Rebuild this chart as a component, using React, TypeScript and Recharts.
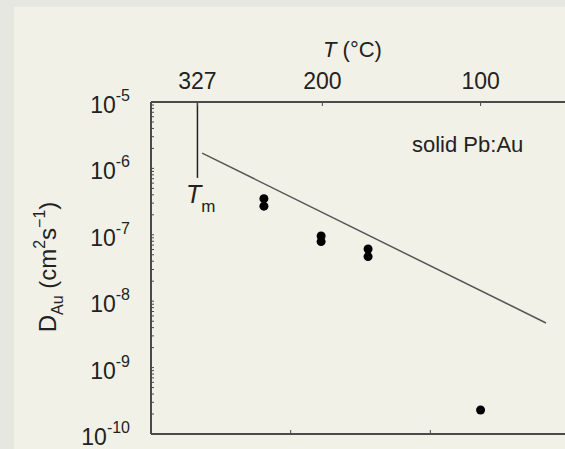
import React from "react";
import { ScatterChart, Scatter, XAxis, YAxis, ReferenceLine } from "recharts";

// Diffusion of Au in solid Pb, plotted against 1000/T (K)
const tempTicksC = [327, 200, 100];
const bottomTicks = [2.0, 2.5];
const decadeTicks = [1e-10, 1e-9, 1e-8, 1e-7, 1e-6, 1e-5];

const pointTempsC = [252, 252, 201, 201, 166, 166, 100];
const pointD = [3.5e-7, 2.7e-7, 9.6e-8, 7.9e-8, 6.1e-8, 4.7e-8, 2.3e-10];

const fitTempsC = [321, 70];
const fitD = [1.7e-6, 4.7e-9];

const meltTempC = 327;
const meltLineD = [1e-5, 7.2e-7];

const invT = (c: number) => 1000 / (c + 273.15);

const points = pointTempsC.map((c, i) => ({ x: invT(c), y: pointD[i] }));
const fitLine = fitTempsC.map((c, i) => ({ x: invT(c), y: fitD[i] }));
const yTicks = [
  ...decadeTicks.slice(0, -1).flatMap((d) => [1, 2, 3, 4, 5, 6, 7, 8, 9].map((k) => k * d)),
  decadeTicks[decadeTicks.length - 1],
];

const INK = "#222";
const AXIS = "#4a4a4a";
const FONT = "'Liberation Sans', Arial, sans-serif";

const YTick = ({ x, y, payload }: any) => {
  const lg = Math.log10(payload.value);
  const exp = Math.round(lg);
  const major = Math.abs(lg - exp) < 1e-6;
  return (
    <g>
      <line x1={x} x2={x + 3} y1={y} y2={y} stroke={AXIS} strokeWidth={1} />
      {major && (
        <text x={x - 21} y={y + 11} textAnchor="end" fontSize={23} fill={INK} fontFamily={FONT}>
          10
          <tspan dy={-12} fontSize={16}>{String(exp)}</tspan>
        </text>
      )}
    </g>
  );
};

const TopTick = ({ x, y, payload }: any) => {
  const c = Math.round(1000 / payload.value - 273.15);
  return (
    <g>
      <line x1={x} x2={x} y1={y} y2={y + 4} stroke={AXIS} />
      <text x={x} y={y - 13} textAnchor="middle" fontSize={23} fill={INK} fontFamily={FONT}>
        {c}
      </text>
    </g>
  );
};

const BottomTick = ({ x, y }: any) => (
  <line x1={x} x2={x} y1={y} y2={y - 4} stroke={AXIS} />
);

const YLabel = () => (
  <text
    transform="translate(56,267) rotate(-90)"
    textAnchor="middle"
    fontSize={24}
    fill={INK}
    fontFamily={FONT}
  >
    D<tspan dy={7} fontSize={16}>Au</tspan>
    <tspan dy={-7}> (cm</tspan>
    <tspan dy={-11} fontSize={16}>2</tspan>
    <tspan dy={11}>s</tspan>
    <tspan dy={-11} fontSize={16}>−1</tspan>
    <tspan dy={11}>)</tspan>
  </text>
);

const TopLabel = ({ viewBox }: any) => (
  <text
    x={viewBox.x + viewBox.width / 2 - 8}
    y={57}
    textAnchor="middle"
    fontSize={22}
    fill={INK}
    fontFamily={FONT}
  >
    <tspan fontStyle="italic">T</tspan> (°C)
  </text>
);

export default function App() {
  return (
    <div
      style={{
        position: "fixed",
        left: 0,
        top: 0,
        width: 565,
        height: 449,
        overflow: "hidden",
        background: "#e7e7e2",
      }}
    >
      <div
        style={{
          position: "absolute",
          left: 14,
          top: 7,
          right: 0,
          bottom: 0,
          background: "#f2f1e7",
        }}
      />
      <div style={{ position: "absolute", left: 0, top: 0 }}>
        <ScatterChart width={600} height={470} margin={{ top: 62, right: 30, bottom: 6, left: 71 }}>
          <XAxis
            xAxisId="bottom"
            type="number"
            dataKey="x"
            domain={[1.5, 3.0]}
            ticks={bottomTicks}
            interval={0}
            tickSize={0}
            tickMargin={0}
            tick={<BottomTick />}
            height={30}
            axisLine={{ stroke: AXIS, strokeWidth: 2 }}
            allowDataOverflow
          />
          <XAxis
            xAxisId="top"
            orientation="top"
            type="number"
            dataKey="x"
            domain={[1.5, 3.0]}
            ticks={tempTicksC.map(invT)}
            interval={0}
            tickSize={0}
            tickMargin={0}
            tick={<TopTick />}
            height={40}
            axisLine={{ stroke: AXIS, strokeWidth: 2 }}
            label={{ content: <TopLabel /> }}
            allowDataOverflow
          />
          <YAxis
            type="number"
            dataKey="y"
            scale="log"
            domain={[1e-10, 1e-5]}
            ticks={yTicks}
            interval={0}
            tickSize={0}
            tickMargin={0}
            tick={<YTick />}
            width={80}
            axisLine={{ stroke: AXIS, strokeWidth: 2 }}
            label={{ content: <YLabel /> }}
            allowDataOverflow
          />
          <ReferenceLine
            xAxisId="bottom"
            segment={[
              { x: invT(meltTempC), y: meltLineD[0] },
              { x: invT(meltTempC), y: meltLineD[1] },
            ]}
            stroke={INK}
            strokeWidth={1.5}
          />
          <Scatter
            xAxisId="bottom"
            data={fitLine}
            line={{ stroke: "#555", strokeWidth: 1.5 }}
            shape={() => <g />}
            isAnimationActive={false}
          />
          <Scatter xAxisId="bottom" data={points} fill="#000" isAnimationActive={false} />
          <text x={186} y={203} fontSize={25} fill={INK} fontFamily={FONT}>
            <tspan fontStyle="italic">T</tspan>
            <tspan dy={9} fontSize={17}>m</tspan>
          </text>
          <text x={412} y={152} fontSize={22} fill={INK} fontFamily={FONT}>
            solid Pb:Au
          </text>
        </ScatterChart>
      </div>
    </div>
  );
}
